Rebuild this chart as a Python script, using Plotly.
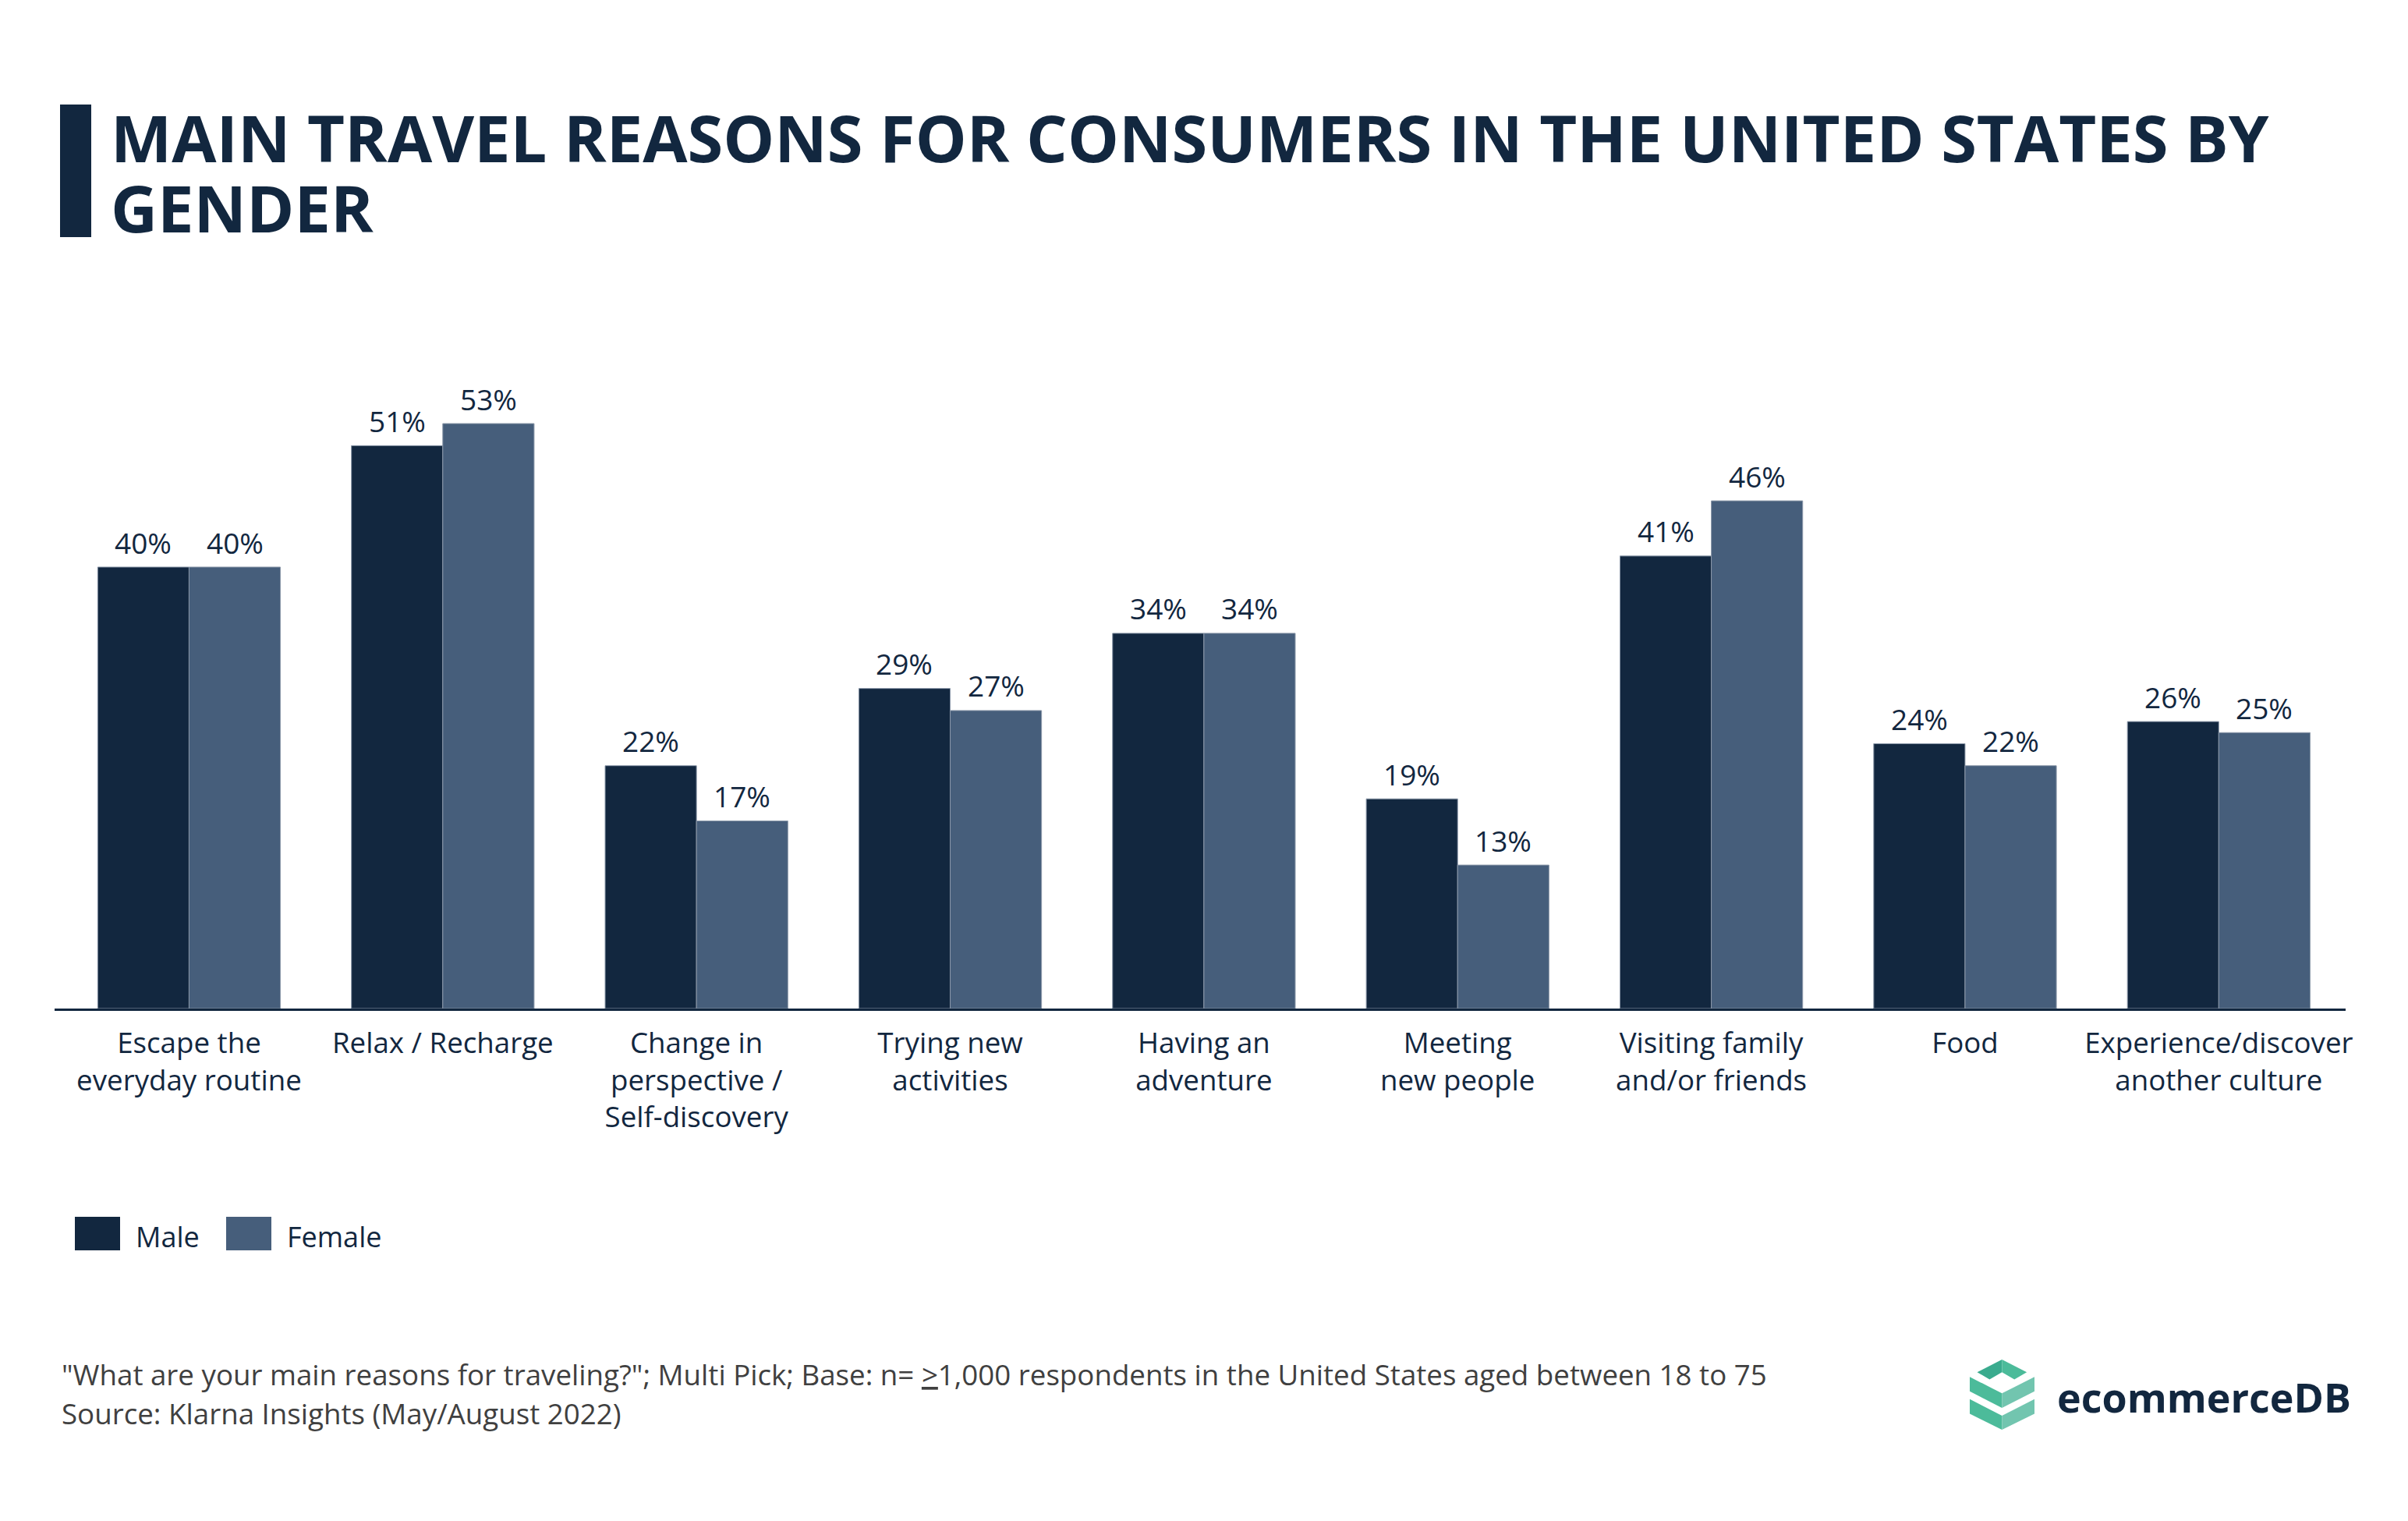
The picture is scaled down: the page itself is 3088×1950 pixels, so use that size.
import plotly.graph_objects as go

categories = [
    "Escape the<br>everyday routine",
    "Relax / Recharge",
    "Change in<br>perspective /<br>Self-discovery",
    "Trying new<br>activities",
    "Having an<br>adventure",
    "Meeting<br>new people",
    "Visiting family<br>and/or friends",
    "Food",
    "Experience/discover<br>another culture",
]
male = [40, 51, 22, 29, 34, 19, 41, 24, 26]
female = [40, 53, 17, 27, 34, 13, 46, 22, 25]
series_names = ["Male", "Female"]

title_lines = ["MAIN TRAVEL REASONS FOR CONSUMERS IN THE UNITED STATES BY", "GENDER"]
footer_lines = [
    "\"What are your main reasons for traveling?\"; Multi Pick; Base: n= <u>&gt;</u>1,000 respondents in the United States aged between 18 to 75",
    "Source: Klarna Insights (May/August 2022)",
]

NAVY = "#12273f"
SLATE = "#465e7b"
GREY = "#404040"
FONT = "Open Sans"

W, H = 3088, 1950
ML, MT = 70, 420
PLOT_BOTTOM = 1293
MR = 80
PW = W - ML - MR
PH = PLOT_BOTTOM - MT
PX_PER_PCT = 14.15
YMAX = PH / PX_PER_PCT


def px(x):
    return (x - ML) / PW


def py(y):
    return (PLOT_BOTTOM - y) / PH


fig = go.Figure()
fig.add_trace(go.Bar(name=series_names[0], x=list(range(len(categories))), y=male,
                     marker=dict(color=NAVY, line=dict(width=1, color="#8a97a8")), showlegend=False))
fig.add_trace(go.Bar(name=series_names[1], x=list(range(len(categories))), y=female,
                     marker=dict(color=SLATE, line=dict(width=1, color="#8a97a8")), showlegend=False))

cat_w = PW / 9.03
bar_w = 0.72 * cat_w / 2
annotations = []
for i, (m, f) in enumerate(zip(male, female)):
    for val, sh in ((m, -bar_w / 2), (f, bar_w / 2)):
        annotations.append(dict(x=i, y=val, xref="x", yref="y", text=f"{val}%", showarrow=False,
                                xshift=sh, yshift=32, yanchor="middle", xanchor="center",
                                font=dict(family=FONT, size=37, color=NAVY)))

# title
title_pos = [175, 265]
for line, yc in zip(title_lines, title_pos):
    annotations.append(dict(x=px(140), y=py(yc), xref="paper", yref="paper", text=f"<b>{line}</b>",
                            showarrow=False, xanchor="left", yanchor="middle",
                            font=dict(family=FONT, size=83, color=NAVY)))

# footer
for line, yc in zip(footer_lines, [1762, 1812]):
    annotations.append(dict(x=px(77), y=py(yc), xref="paper", yref="paper", text=line,
                            showarrow=False, xanchor="left", yanchor="middle",
                            font=dict(family=FONT, size=36.7, color=GREY)))

# legend (manual)
shapes = []
leg = [(series_names[0], NAVY, 96, 172), (series_names[1], SLATE, 290, 366)]
for name, col, sx, tx in leg:
    shapes.append(dict(type="rect", xref="paper", yref="paper", x0=px(sx), x1=px(sx + 58),
                       y0=py(1560), y1=py(1603), fillcolor=col, line=dict(width=0)))
    annotations.append(dict(x=px(tx), y=py(1585), xref="paper", yref="paper", text=name,
                            showarrow=False, xanchor="left", yanchor="middle",
                            font=dict(family=FONT, size=36, color=NAVY)))

# title accent bar
shapes.append(dict(type="rect", xref="paper", yref="paper", x0=px(77), x1=px(117),
                   y0=py(134), y1=py(304), fillcolor=NAVY, line=dict(width=0)))

# logo text
annotations.append(dict(x=px(2636), y=py(1790), xref="paper", yref="paper", text="<b>ecommerceDB</b>",
                        showarrow=False, xanchor="left", yanchor="middle",
                        font=dict(family=FONT, size=52, color=NAVY)))


# logo icon
def ipt(x, y):
    return px(2526 + (x - 70) / 235 * 83), py(1743 + (y - 72) / 276 * 90)


def poly(pts, color):
    path = ""
    for k, (x, y) in enumerate(pts):
        X, Y = ipt(x, y)
        path += ("M" if k == 0 else "L") + f"{X:.6f},{Y:.6f} "
    path += "Z"
    shapes.append(dict(type="path", xref="paper", yref="paper", path=path, fillcolor=color,
                       line=dict(width=0)))


C1, C2, C3 = "#3aab8e", "#4cbb9a", "#72c5af"
# top chevron
poly([(97, 122), (187, 72), (187, 122), (142, 150)], C1)
poly([(187, 72), (277, 122), (232, 150), (187, 122)], C2)
# middle band
poly([(70, 140), (187, 205), (187, 262), (70, 197)], C2)
poly([(187, 205), (305, 140), (305, 197), (187, 262)], C3)
# bottom band
poly([(70, 228), (187, 293), (187, 348), (70, 285)], C2)
poly([(187, 293), (305, 228), (305, 285), (187, 348)], C3)

fig.update_layout(
    width=W, height=H,
    margin=dict(l=ML, r=MR, t=MT, b=H - PLOT_BOTTOM, pad=0),
    paper_bgcolor="white", plot_bgcolor="white",
    barmode="group", bargap=0.28, bargroupgap=0,
    annotations=annotations, shapes=shapes,
    showlegend=False,
)
fig.update_xaxes(
    range=[-0.53, 8.5], tickmode="array", tickvals=list(range(len(categories))), ticktext=categories,
    showline=True, linecolor=NAVY, linewidth=3, ticks="", showgrid=False, zeroline=False,
    tickfont=dict(family=FONT, size=36.7, color=NAVY), ticklabelstandoff=10,
)
fig.update_yaxes(range=[0, YMAX], visible=False, showgrid=False, zeroline=False)

fig.write_html("out.html")
